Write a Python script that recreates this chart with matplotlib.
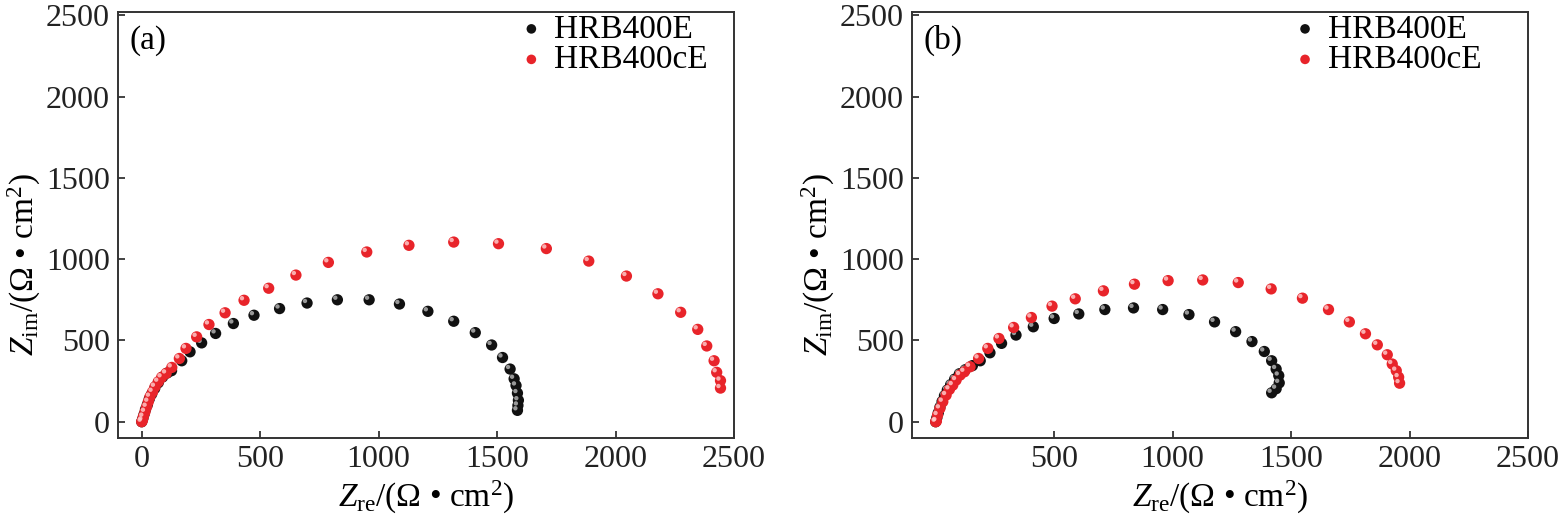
import numpy as np
import matplotlib
matplotlib.use("Agg")
import matplotlib.pyplot as plt
from matplotlib.transforms import offset_copy

plt.rcParams['font.family'] = ['Liberation Serif', 'DejaVu Serif']
plt.rcParams['mathtext.fontset'] = 'custom'
plt.rcParams['mathtext.rm'] = 'Liberation Serif'
plt.rcParams['mathtext.it'] = 'Liberation Serif:italic'

labels = ['HRB400E', 'HRB400cE']

# panel (a)
a_e_x = [0, 5, 10, 16, 24, 32, 42, 55, 70, 88, 108, 126, 169, 204, 253, 312, 387, 474,
         582, 698, 826, 960, 1088, 1208, 1317, 1408, 1477, 1523, 1555, 1572, 1580,
         1586, 1590, 1588, 1586]
a_e_y = [0, 20, 45, 75, 105, 140, 170, 205, 240, 275, 300, 314, 375, 430, 485, 543, 604, 655,
         696, 730, 750, 750, 724, 679, 618, 548, 472, 395, 324, 264, 223,
         176, 132, 100, 70]
a_c_x = [0, 3, 7, 14, 21, 28, 35, 46, 56, 70, 84, 103, 127, 159, 187, 232, 284, 352, 432,
         536, 651, 788, 950, 1128, 1317, 1506, 1708, 1887, 2046, 2179, 2275, 2347,
         2385, 2416, 2427, 2443, 2443]
a_c_y = [0, 8, 31, 61, 92, 123, 154, 184, 215, 246, 273, 297, 334, 389, 451, 522, 598, 670, 747,
         821, 902, 980, 1044, 1085, 1105, 1095, 1065, 988, 896, 787, 673, 568,
         466, 375, 304, 253, 207]

# panel (b)
b_e_x = [0, 5, 11, 18, 27, 37, 49, 63, 80, 100, 125, 155, 188, 229, 278, 339, 412, 500,
         604, 714, 835, 958, 1069, 1177, 1266, 1335, 1387, 1418, 1437, 1448, 1450,
         1437, 1418]
b_e_y = [0, 25, 55, 90, 125, 160, 195, 228, 262, 295, 320, 345, 375, 424, 482, 533, 584, 635,
         663, 690, 700, 690, 659, 614, 554, 493, 432, 375, 324, 284, 239,
         203, 178]
b_c_x = [0, 3, 8, 18, 30, 44, 58, 72, 86, 103, 121, 145, 181, 220, 267, 329, 404, 491,
         589, 708, 839, 981, 1127, 1277, 1416, 1548, 1658, 1746, 1814, 1864, 1906,
         1927, 1944, 1954, 1958]
b_c_y = [0, 4, 41, 82, 123, 164, 199, 225, 256, 287, 307, 338, 389, 451, 512, 580, 641, 711,
         756, 805, 846, 868, 872, 856, 817, 760, 690, 614, 541, 473, 412,
         355, 314, 274, 237]

panels = [
    ('(a)', [(a_e_x, a_e_y), (a_c_x, a_c_y)], [0, 500, 1000, 1500, 2000, 2500], 0.644),
    ('(b)', [(b_e_x, b_e_y), (b_c_x, b_c_y)], [500, 1000, 1500, 2000, 2500], 0.611),
]
colors = ['#111111', '#e8242a']
shines = ['#bbbbbb', '#ffd0d0']

fig = plt.figure(figsize=(15.63, 5.18), dpi=100)
lefts = [118 / 1563, 912 / 1563]

for (tag, series, xt, legx), left in zip(panels, lefts):
    ax = fig.add_axes([left, 1 - 438 / 518, 616 / 1563, 426 / 518])
    for (x, y), c, sh, lab in zip(series, colors, shines, labels):
        ax.scatter(x, y, s=66, color=c, edgecolors='none', label=lab, zorder=3)
        tr = offset_copy(ax.transData, fig=fig, x=-1.5, y=1.5, units='points')
        ax.scatter(x, y, s=10, color=sh, edgecolors='none', alpha=0.8,
                   transform=tr, zorder=3)
    ax.set_xlim(-100, 2500)
    ax.set_ylim(-100, 2520)
    ax.set_xticks(xt)
    ax.set_yticks([0, 500, 1000, 1500, 2000, 2500])
    ax.tick_params(direction='in', length=5, width=1.2, labelsize=23,
                   top=False, right=False, colors='#222222')
    ax.tick_params(axis='x', pad=5)
    ax.tick_params(axis='y', pad=6)
    for sp in ax.spines.values():
        sp.set_linewidth(1.4)
        sp.set_color('#333333')
    ax.set_xlabel(r'$Z_{\rm re}$/(Ω • cm$^2$)', fontsize=24, va='bottom')
    ax.set_ylabel(r'$Z_{\rm im}$/(Ω • cm$^2$)', fontsize=24, va='top')
    ax.xaxis.set_label_coords(0.5, -0.183)
    ax.yaxis.set_label_coords(-0.182, 0.406)
    ax.text(0.018, 0.934, tag, transform=ax.transAxes, fontsize=24, va='center')
    ax.legend(loc='upper left', bbox_to_anchor=(legx, 0.995), frameon=False,
              fontsize=24, markerscale=0.85, handlelength=1.0, handletextpad=0.18,
              borderpad=0, borderaxespad=0, labelspacing=0)

fig.savefig('out.png', dpi=100)
